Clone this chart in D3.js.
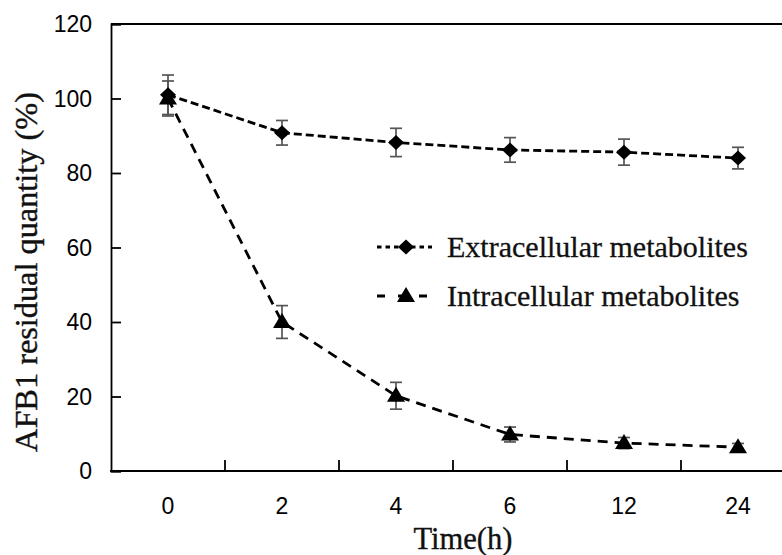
<!DOCTYPE html>
<html><head><meta charset="utf-8">
<script src="https://cdn.jsdelivr.net/npm/d3@7"></script>
<style>body{margin:0;background:#fff;} svg{display:block;}</style>
</head><body>
<svg id="c" width="782" height="555"></svg>
<script>
const categories = ["0","2","4","6","12","24"];
const extValues = [101, 90.8, 88.2, 86.2, 85.6, 84.0];
const extErrors = [5.3, 3.3, 3.8, 3.3, 3.5, 2.9];
const intValues = [100, 40.0, 20.2, 9.8, 7.5, 6.4];
const intErrors = [4.7, 4.4, 3.6, 2.0, 1.5, 1.0];
const yTicks = [0,20,40,60,80,100,120];
const seriesNames = ["Extracellular metabolites","Intracellular metabolites"];

const svg = d3.select("#c");
const L = 111, T = 24, B = 471, R = 795;
const x = d3.scaleBand().domain(categories).range([L, R]).padding(0);
const y = d3.scaleLinear().domain([0,120]).range([B, T]);

// frame
svg.append("line").attr("x1",L).attr("x2",R).attr("y1",T).attr("y2",T).attr("stroke","#000").attr("stroke-width",1.8);

// y axis
const yAxis = svg.append("g").attr("transform",`translate(${L},0)`)
  .call(d3.axisRight(y).tickValues(yTicks).tickSize(10).tickFormat(""));
yAxis.select(".domain").attr("stroke","#000").attr("stroke-width",1.8);
yAxis.selectAll(".tick line").attr("stroke","#000").attr("stroke-width",1.8);
svg.append("g").selectAll("text").data(yTicks).join("text")
  .attr("x",92).attr("y",d=>y(d)).attr("dy","0.36em").attr("text-anchor","end")
  .attr("font-family","Liberation Sans, Arial, sans-serif").attr("font-size",23).attr("fill","#000")
  .text(d=>d);

// x axis
const xAxis = svg.append("g").attr("transform",`translate(0,${B})`);
xAxis.append("line").attr("x1",L-1).attr("x2",R).attr("stroke","#000").attr("stroke-width",1.8);
xAxis.selectAll("line.tk").data(categories.slice(1)).join("line").attr("class","tk")
  .attr("x1",d=>x(d)).attr("x2",d=>x(d)).attr("y1",0).attr("y2",-11).attr("stroke","#000").attr("stroke-width",1.8);
xAxis.selectAll("text").data(categories).join("text")
  .attr("x",d=>x(d)+x.bandwidth()/2).attr("y",43).attr("text-anchor","middle")
  .attr("font-family","Liberation Sans, Arial, sans-serif").attr("font-size",23).attr("fill","#000")
  .text(d=>d);

// titles
function fitText(sel, target){
  const w = sel.node().getComputedTextLength();
  const fs = parseFloat(sel.attr("font-size"));
  sel.attr("font-size", fs*target/w);
}
const serif = "Liberation Serif, 'Times New Roman', serif";
const xt = svg.append("text").attr("x",463).attr("y",549).attr("text-anchor","middle")
  .attr("font-family",serif).attr("font-size",24).attr("fill","#111")
  .attr("stroke","#111").attr("stroke-width",0.35).text("Time(h)");
fitText(xt, 99);
const yt = svg.append("text").attr("transform","translate(37,272) rotate(-90)").attr("text-anchor","middle")
  .attr("font-family",serif).attr("font-size",24).attr("fill","#111")
  .attr("stroke","#111").attr("stroke-width",0.4).text("AFB1 residual quantity (%)");
fitText(yt, 360);

const cx = d => x(d)+x.bandwidth()/2;
const ext = categories.map((c,i)=>({c, v:extValues[i], e:extErrors[i]}));
const intr = categories.map((c,i)=>({c, v:intValues[i], e:intErrors[i]}));
const line = d3.line().x(d=>cx(d.c)).y(d=>y(d.v));

function errBars(data){
  const g = svg.append("g").attr("stroke","#555").attr("stroke-width",1.7);
  g.selectAll("line.v").data(data).join("line").attr("class","v")
    .attr("x1",d=>cx(d.c)).attr("x2",d=>cx(d.c)).attr("y1",d=>y(d.v+d.e)).attr("y2",d=>y(d.v-d.e));
  g.selectAll("line.t").data(data).join("line").attr("class","t")
    .attr("x1",d=>cx(d.c)-6).attr("x2",d=>cx(d.c)+6).attr("y1",d=>y(d.v+d.e)).attr("y2",d=>y(d.v+d.e));
  g.selectAll("line.b").data(data).join("line").attr("class","b")
    .attr("x1",d=>cx(d.c)-6).attr("x2",d=>cx(d.c)+6).attr("y1",d=>y(d.v-d.e)).attr("y2",d=>y(d.v-d.e));
}
errBars(intr);
errBars(ext);

svg.append("path").datum(intr).attr("d",line).attr("fill","none").attr("stroke","#000")
  .attr("stroke-width",2.8).attr("stroke-dasharray","10,7");
svg.append("path").datum(ext).attr("d",line).attr("fill","none").attr("stroke","#000")
  .attr("stroke-width",2.8).attr("stroke-dasharray","8,4");

const diamond = "M0,-7.5L8,0L0,7.5L-8,0Z";
const tri = "M0,-9L9,6L-9,6Z";
svg.append("g").selectAll("path").data(ext).join("path")
  .attr("d",diamond).attr("transform",d=>`translate(${cx(d.c)},${y(d.v)})`).attr("fill","#000");
svg.append("g").selectAll("path").data(intr).join("path")
  .attr("d",tri).attr("transform",d=>`translate(${cx(d.c)},${y(d.v)})`).attr("fill","#000");

// legend
const lg = svg.append("g");
const rows = [{n:seriesNames[0], y:247, dash:"4.5,4", m:diamond, mx:406},
              {n:seriesNames[1], y:296, dash:"8,13", m:tri, mx:406}];
rows.forEach(r=>{
  lg.append("line").attr("x1",377).attr("x2",432).attr("y1",r.y).attr("y2",r.y)
    .attr("stroke","#000").attr("stroke-width",2.8).attr("stroke-dasharray",r.dash);
  lg.append("path").attr("d",r.m).attr("transform",`translate(${r.mx},${r.y})`).attr("fill","#000");
  lg.append("text").attr("x",447).attr("y",r.y).attr("dy","0.33em")
    .attr("font-family",serif).attr("font-size",24).attr("fill","#111")
    .attr("stroke","#111").attr("stroke-width",0.3).text(r.n);
});
const lt = lg.selectAll("text");
const w0 = lt.nodes()[0].getComputedTextLength();
lt.attr("font-size", 24*301/w0);
</script>
</body></html>
